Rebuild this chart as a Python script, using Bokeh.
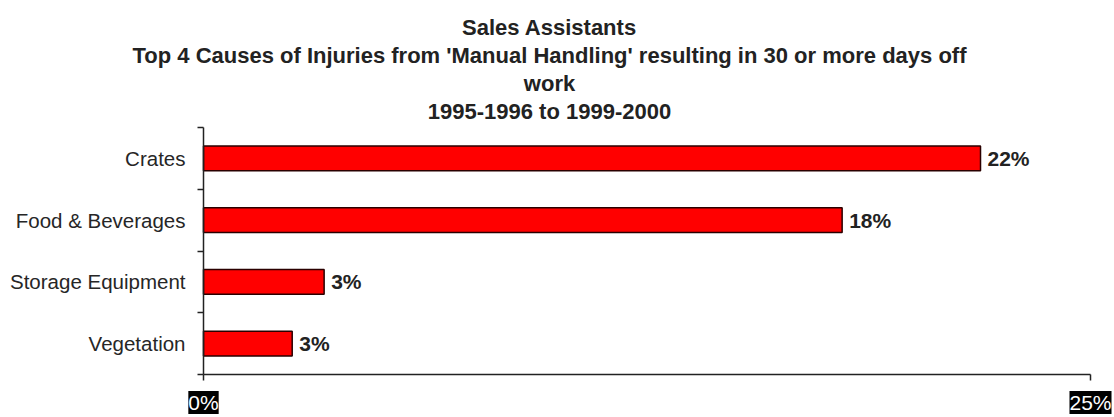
from bokeh.plotting import figure
from bokeh.models import FixedTicker, Label, ColumnDataSource
from bokeh.core.properties import value
from bokeh.embed import file_html
from bokeh.resources import INLINE

# ---- data ----
title_lines = [
    "Sales Assistants",
    "Top 4 Causes of Injuries from 'Manual Handling' resulting in 30 or more days off",
    "work",
    "1995-1996 to 1999-2000",
]
categories = ["Crates", "Food & Beverages", "Storage Equipment", "Vegetation"]
values = [21.9, 18.0, 3.4, 2.5]
bar_labels = ["22%", "18%", "3%", "3%"]
x_ticks = [0, 25]
x_tick_labels = ["0%", "25%"]

# ---- layout constants (pixels) ----
FONT = "Liberation Sans"
W, H = 1112, 415
AX_LEFT, AX_RIGHT = 203, 1090     # pixel x of 0% and 25%
AX_TOP, AX_BOTTOM = 127, 374      # pixel y of top of category axis and of x axis
TITLE_CENTER = 549
TITLE_BASELINES = [27, 55, 83, 111]

n = len(categories)
ypos = [n - i - 0.5 for i in range(n)]
xmax = x_ticks[-1]
xpx = (AX_RIGHT - AX_LEFT) / xmax
ypx = (AX_BOTTOM - AX_TOP) / n
x_range = (-AX_LEFT / xpx, xmax + (W - AX_RIGHT) / xpx)
y_range = (-(H - AX_BOTTOM) / ypx, n + AX_TOP / ypx)

p = figure(width=W, height=H, x_range=x_range, y_range=y_range, title=None,
           output_backend="svg", toolbar_location=None,
           min_border_left=0, min_border_right=0,
           min_border_top=0, min_border_bottom=0)
p.outline_line_color = None
p.xgrid.visible = False
p.ygrid.visible = False
p.background_fill_color = "white"
p.border_fill_color = "white"

src = ColumnDataSource(dict(y=ypos, right=values, lab=bar_labels,
                            cat=categories, zero=[0] * n))
p.hbar(y="y", left=0, right="right", height=0.4, source=src,
       fill_color="#ff0000", line_color="#2a0000", line_width=1.5)
p.text(x="right", y="y", text="lab", source=src, x_offset=7,
       text_baseline="middle", text_align="left",
       text_font=value(FONT), text_font_style="bold",
       text_font_size="21px", text_color="#222222")
# category labels beside the category axis
p.text(x="zero", y="y", text="cat", source=src, x_offset=-18,
       text_baseline="middle", text_align="right",
       text_font=value(FONT), text_font_size="20.5px", text_color="#262626")

# category axis: line at x=0 with ticks between categories
ya = p.yaxis[0]
ya.fixed_location = 0
ya.bounds = (0, n)
ya.ticker = FixedTicker(ticks=[], minor_ticks=list(range(n + 1)))
ya.major_tick_out = 0
ya.major_tick_in = 0
ya.minor_tick_out = 6
ya.minor_tick_in = 0
ya.minor_tick_line_color = "#222222"
ya.minor_tick_line_width = 1.5
ya.axis_line_color = "#222222"
ya.axis_line_width = 1.5
ya.major_label_standoff = 0

# value axis: line at y=0, ticks at 0% and 25%
xa = p.xaxis[0]
xa.fixed_location = 0
xa.bounds = (0, xmax)
xa.ticker = FixedTicker(ticks=[], minor_ticks=x_ticks)
xa.major_tick_out = 0
xa.major_tick_in = 0
xa.minor_tick_out = 6
xa.minor_tick_in = 0
xa.minor_tick_line_color = "#222222"
xa.minor_tick_line_width = 1.5
xa.axis_line_color = "#222222"
xa.axis_line_width = 1.5
xa.major_label_standoff = 0

for t, lab in zip(x_ticks, x_tick_labels):
    p.add_layout(Label(x=t, y=0, y_offset=-28, text=lab, text_align="center",
                       text_baseline="middle", text_font=FONT,
                       text_font_size="21px", text_color="white",
                       background_fill_color="black"))

for line, base in zip(title_lines, TITLE_BASELINES):
    p.add_layout(Label(x=0, y=n, x_offset=TITLE_CENTER - AX_LEFT,
                       y_offset=AX_TOP - base, text=line,
                       text_align="center", text_baseline="alphabetic",
                       text_font=FONT, text_font_style="bold",
                       text_font_size="22px", text_color="#222222"))

open("out.html", "w").write(file_html(p, INLINE))
